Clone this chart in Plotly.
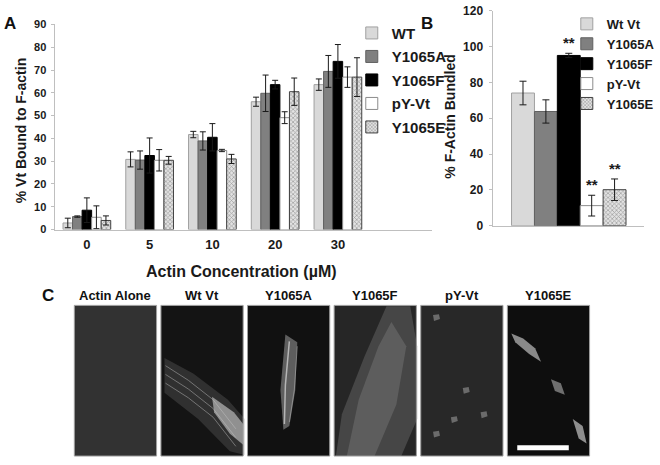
import plotly.graph_objects as go

# ---------------- data ----------------
CONCENTRATIONS = ["0", "5", "10", "20", "30"]
SERIES_A = ["WT", "Y1065A", "Y1065F", "pY-Vt", "Y1065E"]
WT_A = [2.9, 30.8, 41.7, 56.1, 63.6]
WT_A_ERR = [2.1, 3.3, 1.4, 2.0, 2.5]
Y1065A_A = [5.7, 30.5, 38.9, 59.8, 69.4]
Y1065A_A_ERR = [0.3, 4.0, 4.0, 8.0, 7.0]
Y1065F_A = [8.5, 32.5, 40.5, 63.6, 73.8]
Y1065F_A_ERR = [5.4, 7.7, 6.0, 1.9, 7.4]
PYVT_A = [5.4, 30.4, 34.7, 49.1, 66.9]
PYVT_A_ERR = [5.0, 4.7, 0.5, 2.6, 4.5]
Y1065E_A = [4.0, 30.4, 31.0, 60.5, 66.9]
Y1065E_A_ERR = [2.0, 1.7, 2.0, 6.0, 8.5]

SERIES_B = ["Wt Vt", "Y1065A", "Y1065F", "pY-Vt", "Y1065E"]
BUNDLED_B = [74.1, 63.8, 95.1, 11.2, 20.1]
BUNDLED_B_ERR = [6.6, 6.5, 1.2, 5.8, 6.0]
STARS_B = ["", "", "**", "**", "**"]

A_TICKS = list(range(0, 91, 10))
B_TICKS = list(range(0, 121, 20))
C_TITLES = ["Actin Alone", "Wt Vt", "Y1065A", "Y1065F", "pY-Vt", "Y1065E"]

# ---------------- styles ----------------
W, H = 660, 465
FONT = "Liberation Sans, Arial, sans-serif"
INK = "#1a1a1a"
FILLS = ["#d9d9d9", "#808080", "#000000", "#ffffff", "#e2e2e2"]
LINES = ["#a0a0a0", "#606060", "#000000", "#8c8c8c", "#404040"]
PATTERNS = [None, None, None, None, dict(shape="x", size=3, solidity=0.4, fgcolor="#555555")]
AXIS_COLOR = "#bfbfbf"
BARGAP = 0.24
C_FILLS = ["#323232", "#141414", "#111111", "#262626", "#282828", "#0e0e0e"]


def px(x):
    return x / W


def py(y):
    return 1 - y / H


def marker(i):
    m = dict(color=FILLS[i], line=dict(color=LINES[i], width=1))
    if PATTERNS[i]:
        m["pattern"] = PATTERNS[i]
    return m


def bold(size, color=INK):
    return dict(family=FONT, size=size, color=color, weight="bold")


fig = go.Figure()

a_vals = [WT_A, Y1065A_A, Y1065F_A, PYVT_A, Y1065E_A]
a_errs = [WT_A_ERR, Y1065A_A_ERR, Y1065F_A_ERR, PYVT_A_ERR, Y1065E_A_ERR]
for i, name in enumerate(SERIES_A):
    fig.add_trace(go.Bar(
        x=CONCENTRATIONS, y=a_vals[i], name=name, marker=marker(i),
        error_y=dict(type="data", array=a_errs[i], color=INK, thickness=1, width=3),
        xaxis="x", yaxis="y", legend="legend", legendgroup="a" + name,
    ))

for i, name in enumerate(SERIES_B):
    fig.add_trace(go.Bar(
        x=["bundled"], y=[BUNDLED_B[i]], name=name, marker=marker(i),
        error_y=dict(type="data", array=[BUNDLED_B_ERR[i]], color=INK, thickness=1, width=3.5),
        xaxis="x2", yaxis="y2", legend="legend2", legendgroup="b" + name,
    ))

fig.update_layout(
    width=W, height=H, margin=dict(l=0, r=0, t=0, b=0),
    paper_bgcolor="white", plot_bgcolor="white",
    barmode="group", bargap=BARGAP, bargroupgap=0,
    font=dict(family=FONT, color=INK),
    xaxis=dict(domain=[px(56), px(436)], type="category", range=[-0.5, 5.5],
               showline=True, linecolor=AXIS_COLOR, linewidth=1, ticks="",
               tickfont=bold(13), ticklabelstandoff=3,
               showgrid=False, zeroline=False, anchor="y"),
    yaxis=dict(domain=[py(230), py(19)], range=[0, 90], tickvals=A_TICKS,
               showline=True, linecolor=AXIS_COLOR, linewidth=1, ticks="outside",
               ticklen=3, tickcolor=AXIS_COLOR, tickfont=bold(11),
               ticklabelstandoff=3, showgrid=False, zeroline=False, anchor="x"),
    xaxis2=dict(domain=[px(498), px(650)], type="category", range=[-0.5, 0.5],
                showline=True, linecolor=AXIS_COLOR, linewidth=1, ticks="",
                showticklabels=False, showgrid=False, zeroline=False, anchor="y2"),
    yaxis2=dict(domain=[py(226), py(5)], range=[0, 120], tickvals=B_TICKS,
                showline=True, linecolor=AXIS_COLOR, linewidth=1, ticks="outside",
                ticklen=3, tickcolor=AXIS_COLOR, tickfont=bold(12),
                ticklabelstandoff=4, showgrid=False, zeroline=False, anchor="x2"),
    legend=dict(x=px(355), y=py(11), xanchor="left", yanchor="top",
                font=bold(15), tracegroupgap=1, bgcolor="rgba(0,0,0,0)",
                itemclick=False, itemdoubleclick=False),
    legend2=dict(x=px(572), y=py(3), xanchor="left", yanchor="top",
                 font=bold(13), tracegroupgap=0, bgcolor="rgba(0,0,0,0)",
                 itemclick=False, itemdoubleclick=False),
    showlegend=True,
)

ann = []


def label(text, x, y, font, angle=0):
    ann.append(dict(text=text, x=px(x), y=py(y), xref="paper", yref="paper",
                    xanchor="center", yanchor="middle", showarrow=False,
                    textangle=angle, font=font))


# panel labels
label("A", 10, 18, bold(17, "#111"))
label("B", 431, 18, bold(17, "#111"))
label("C", 48, 298, bold(17, "#111"))
# axis titles
label("% Vt Bound to F-actin", 22, 128, bold(14), -90)
label("Actin Concentration (µM)", 244, 273, bold(16))
label("% F-Actin Bundled", 454, 114, bold(14), -90)

# significance stars above panel B bars
n_b = len(SERIES_B)
gw = 1 - BARGAP
for i, s in enumerate(STARS_B):
    if s:
        ann.append(dict(text=s, x=-gw / 2 + (i + 0.5) * gw / n_b, y=BUNDLED_B[i] + BUNDLED_B_ERR[i],
                        xref="x2", yref="y2", xanchor="center", yanchor="bottom",
                        showarrow=False, yshift=0, font=bold(15)))

# panel C: micrograph frames (dark fields) with titles
shapes = []
C_LEFT, C_STEP, C_W, C_TOP, C_BOT = 75, 87.4, 83, 308, 463
for i, t in enumerate(C_TITLES):
    x0 = C_LEFT + i * C_STEP
    shapes.append(dict(type="rect", xref="paper", yref="paper", x0=px(x0), x1=px(x0 + C_W),
                       y0=py(C_BOT), y1=py(C_TOP), fillcolor=C_FILLS[i],
                       line=dict(width=0), layer="above"))
    label(t, x0 + C_W / 2, 298, bold(13, "#111"))


def _path(points, close):
    p = "M " + " L ".join(f"{px(x):.5f},{py(y):.5f}" for x, y in points)
    return p + (" Z" if close else "")


def blob(points, color, opacity):
    shapes.append(dict(type="path", xref="paper", yref="paper", path=_path(points, True),
                       fillcolor=color, line=dict(width=0), opacity=opacity, layer="above"))


def strand(points, color, width, opacity):
    shapes.append(dict(type="path", xref="paper", yref="paper", path=_path(points, False),
                       line=dict(color=color, width=width), opacity=opacity, layer="above"))


# soft impressions of the fluorescent structures in each micrograph
# Wt Vt: sweeping bundles toward the lower right
blob([(166, 362), (195, 378), (230, 405), (247, 425), (247, 462), (232, 458), (200, 425), (166, 398)],
     "#7a7a7a", 0.28)
blob([(214, 402), (236, 418), (247, 432), (246, 452), (232, 440), (216, 418)], "#e0e0e0", 0.55)
for dy in (0, 9, 18):
    strand([(167, 370 + dy), (190, 385 + dy), (215, 405 + dy), (238, 435 + dy)], "#c8c8c8", 1, 0.45)
# Y1065A: narrow V-shaped bundle
blob([(288, 338), (300, 346), (298, 395), (292, 432), (286, 436), (283, 395)], "#bdbdbd", 0.45)
strand([(292, 345), (288, 390), (287, 430)], "#efefef", 1.5, 0.6)
strand([(300, 350), (297, 395), (292, 428)], "#bdbdbd", 1, 0.5)
# Y1065F: broad diffuse bundle
blob([(390, 309), (414, 309), (421, 350), (421, 425), (405, 463), (339, 463), (345, 420), (368, 360)],
     "#5c5c5c", 0.6)
blob([(395, 325), (410, 350), (400, 410), (378, 463), (350, 463), (362, 405), (382, 350)],
     "#8a8a8a", 0.35)
# pY-Vt: scattered bright clumps
for cx, cy in [(440, 320), (470, 395), (458, 425), (488, 420), (440, 440)]:
    blob([(cx - 3, cy - 2), (cx + 3, cy - 3), (cx + 4, cy + 2), (cx - 2, cy + 4)], "#bdbdbd", 0.45)
# Y1065E: a few bright edges
blob([(516, 337), (528, 342), (540, 352), (546, 366), (534, 358), (520, 346)], "#dcdcdc", 0.6)
blob([(556, 384), (566, 388), (570, 400), (560, 396)], "#cfcfcf", 0.5)
blob([(578, 425), (588, 432), (592, 450), (584, 445)], "#e5e5e5", 0.6)

# thin frame around each micrograph
for i in range(len(C_TITLES)):
    x0 = C_LEFT + i * C_STEP
    shapes.append(dict(type="rect", xref="paper", yref="paper", x0=px(x0), x1=px(x0 + C_W),
                       y0=py(C_BOT), y1=py(C_TOP), fillcolor="rgba(0,0,0,0)",
                       line=dict(color="#a0a0a0", width=1), layer="above"))

# scale bar in last image
xl = C_LEFT + 5 * C_STEP
shapes.append(dict(type="rect", xref="paper", yref="paper", x0=px(xl + 10), x1=px(xl + 62),
                   y0=py(457), y1=py(452), fillcolor="white", line=dict(width=0), layer="above"))

fig.update_layout(annotations=ann, shapes=shapes)
fig.write_html(
    "out.html",
    config={"displayModeBar": False},
    post_script="document.body.style.margin='0';document.body.style.overflow='hidden';",
)
